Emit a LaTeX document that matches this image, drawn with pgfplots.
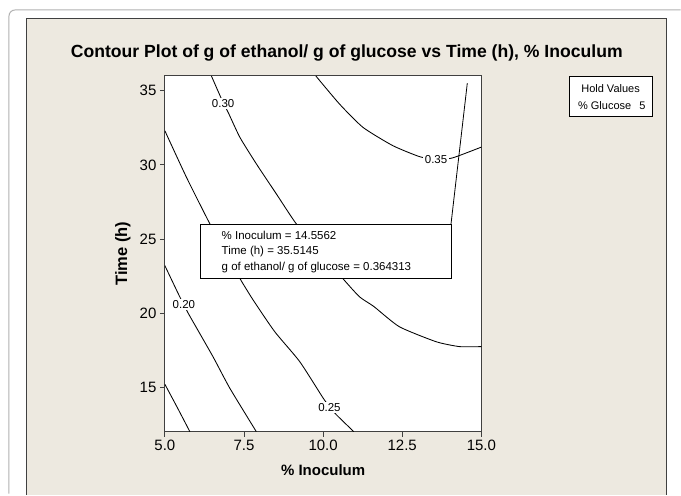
\documentclass[border=0pt]{standalone}
\usepackage{pgfplots}
\pgfplotsset{compat=1.18}
\usepackage{fontspec}
\setmainfont{Liberation Sans}
\definecolor{panel}{RGB}{237,233,224}
\definecolor{frame}{RGB}{64,64,64}
\begin{document}
\begin{tikzpicture}[x=1pt,y=1pt]
\fill[white] (0,0) rectangle (681,494);
\draw[black!30, line width=1pt] (9,0) -- (9,478) arc[start angle=180,end angle=90,radius=6] -- (681,484);
\draw[fill=panel, draw=frame, line width=1pt] (27,-1) -- (27,475) -- (667,475) -- (667,-1);
\node[font=\fontsize{17.6}{20}\selectfont\bfseries] at (347,441) {Contour Plot of g of ethanol/ g of glucose vs Time (h), \% Inoculum};
% hold values box
\draw[fill=white, draw=black, line width=0.8pt] (570,418) rectangle (652.7,377.3);
\node[font=\fontsize{11}{13}\selectfont] at (611,405) {Hold Values};
\node[font=\fontsize{11}{13}\selectfont, anchor=west] at (575,388.3) {\% Glucose};
\node[font=\fontsize{11}{13}\selectfont] at (643,388.3) {5};
\begin{axis}[
  at={(165pt,62pt)}, anchor=south west,
  scale only axis, width=316.7pt, height=356pt,
  xmin=5, xmax=15, ymin=12, ymax=36,
  xtick={5,7.5,10,12.5,15}, xticklabels={5.0,7.5,10.0,12.5,15.0},
  ytick={15,20,25,30,35},
  tick align=outside, tick pos=left, major tick length=5pt,
  axis line style={draw=frame, line width=1pt},
  every tick/.style={draw=frame, line width=0.8pt},
  axis background/.style={fill=white},
  ticklabel style={font=\fontsize{15}{17}\selectfont},
  /pgf/number format/assume math mode=true,
  xlabel={\bfseries\% Inoculum},
  ylabel={\bfseries Time (h)},
  xlabel style={font=\fontsize{15}{17}\selectfont, at={([yshift=-38.7pt]axis description cs:0.5,0)}, anchor=center},
  ylabel style={font=\fontsize{16.5}{18}\selectfont, at={([xshift=-42pt]axis description cs:0,0.5)}, anchor=center},
  clip=true,
]
\addplot[black, line width=0.85pt, smooth, tension=0.35] coordinates {(5.0,15.2) (5.4,13.6) (5.79,12.0)};
\addplot[black, line width=0.85pt, smooth, tension=0.35] coordinates {(5.0,23.2) (5.47,21.1) (5.6,20.6) (5.74,19.98) (6.52,17.06) (7.05,14.94) (7.89,12.0)};
\addplot[black, line width=0.85pt, smooth, tension=0.35] coordinates {(5.0,32.3) (5.68,29.17) (6.42,26.03) (6.9,24.2) (7.37,22.34) (7.79,20.88) (8.47,18.75) (9.26,16.73) (10.0,14.27) (10.2,13.7) (10.42,13.14) (10.97,12.0)};
\addplot[black, line width=0.85pt, smooth, tension=0.35] coordinates {(6.47,36.0) (6.84,34.2) (7.0,33.54) (7.37,31.86) (7.89,30.07) (8.52,28.05) (9.15,26.03) (9.9,24.2) (10.62,22.34) (11.15,21.1) (11.6,20.45) (12.41,19.08) (13.57,18.07) (14.31,17.74) (15.0,17.74)};
\addplot[black, line width=0.85pt, smooth, tension=0.35] coordinates {(9.77,36.0) (10.52,34.1) (11.26,32.53) (12.2,31.3) (13.04,30.56) (13.57,30.36) (14.09,30.47) (15.0,31.2)};
% contour labels
\node[font=\fontsize{11.5}{13}\selectfont, fill=white, inner sep=1.5pt] at (axis cs:6.84,34.17) {0.30};
\node[font=\fontsize{11.5}{13}\selectfont, fill=white, inner sep=1.5pt] at (axis cs:13.57,30.36) {0.35};
\node[font=\fontsize{11.5}{13}\selectfont, fill=white, inner sep=1.5pt] at (axis cs:5.6,20.59) {0.20};
\node[font=\fontsize{11.5}{13}\selectfont, fill=white, inner sep=1.5pt] at (axis cs:10.2,13.66) {0.25};
% annotation
\draw[black, line width=0.8pt] (axis cs:14.04,25.99) -- (axis cs:14.5562,35.5145);
\draw[fill=white, draw=black, line width=0.8pt] (axis cs:6.126,25.99) rectangle (axis cs:14.04,22.34);
\node[font=\fontsize{11.5}{13}\selectfont, anchor=west, inner sep=0pt] at (axis cs:6.79,25.24) {\% Inoculum = 14.5562};
\node[font=\fontsize{11.5}{13}\selectfont, anchor=west, inner sep=0pt] at (axis cs:6.79,24.16) {Time (h) = 35.5145};
\node[font=\fontsize{11.5}{13}\selectfont, anchor=west, inner sep=0pt] at (axis cs:6.79,23.08) {g of ethanol/ g of glucose = 0.364313};
\end{axis}
\end{tikzpicture}
\end{document}
